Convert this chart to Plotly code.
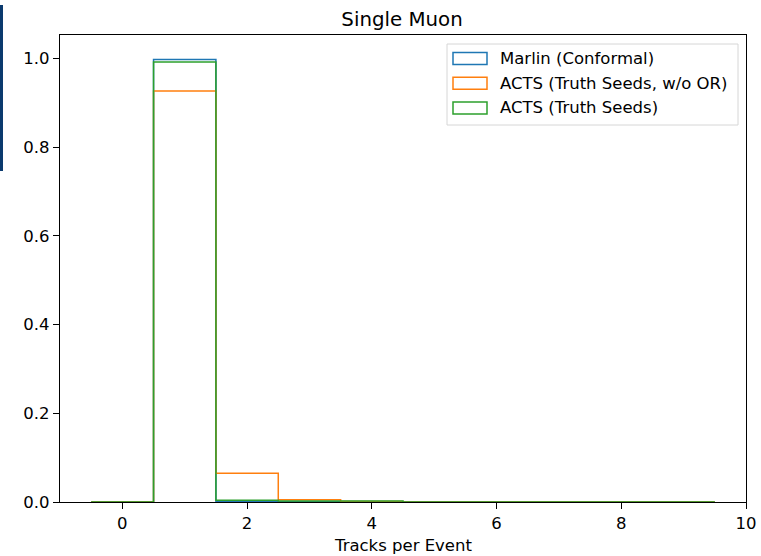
import plotly.graph_objects as go

# Data
bin_edges = [-0.5, 0.5, 1.5, 2.5, 3.5, 4.5, 5.5, 6.5, 7.5, 8.5, 9.5]
series_names = ["Marlin (Conformal)", "ACTS (Truth Seeds, w/o OR)", "ACTS (Truth Seeds)"]
marlin = [0.0, 0.998, 0.001, 0.0005, 0.0, 0.0, 0.0, 0.0, 0.0, 0.0]
acts_no_or = [0.0, 0.927, 0.065, 0.005, 0.001, 0.0, 0.0, 0.0, 0.0, 0.0]
acts = [0.0, 0.992, 0.004, 0.002, 0.002, 0.0, 0.0, 0.0, 0.0, 0.0]
colors = ["#1f77b4", "#ff7f0e", "#2ca02c"]
x_ticks = [0, 2, 4, 6, 8, 10]
y_ticks = [0.0, 0.2, 0.4, 0.6, 0.8, 1.0]

FONT = "DejaVu Sans"
FS = 16.5
fig = go.Figure()

for name, vals, col in zip(series_names, [marlin, acts_no_or, acts], colors):
    xs = [bin_edges[0]] + bin_edges
    ys = [0.0] + vals + [0.0]
    fig.add_trace(go.Scatter(x=xs, y=ys, mode="lines", line=dict(color=col, width=1.5, shape="hv"),
                             name=name, showlegend=False, hoverinfo="skip"))

# Manual legend (matplotlib-style patch outlines)
W, H = 761, 556
l, r, t, b = 60, 15, 35, 54
pw, ph = W - l - r, H - t - b

def px(xp):
    return (xp - l) / pw

def py(yp):
    return (H - b - yp) / ph

shapes = [
    dict(type="rect", xref="paper", yref="paper", x0=px(447), x1=px(738), y0=py(125), y1=py(44),
         line=dict(color="#d6d6d6", width=1), fillcolor="rgba(255,255,255,0.8)", layer="above"),
]
annotations = []
row_y = [58.5, 83.2, 107.9]
for name, col, yc in zip(series_names, colors, row_y):
    shapes.append(dict(type="rect", xref="paper", yref="paper", x0=px(453), x1=px(487),
                       y0=py(yc + 6), y1=py(yc - 6), line=dict(color=col, width=1.5),
                       fillcolor="rgba(0,0,0,0)", layer="above"))
    annotations.append(dict(xref="paper", yref="paper", x=px(498), y=py(yc), text=name,
                            showarrow=False, xanchor="left", yanchor="middle",
                            font=dict(family=FONT, size=FS, color="#000000")))

# X axis title placed as annotation
annotations.append(dict(xref="paper", yref="paper", x=px(403), y=py(545), text="Tracks per Event",
                        showarrow=False, xanchor="center", yanchor="middle",
                        font=dict(family=FONT, size=FS, color="#000000")))

# Navy bar at left edge of the reference screenshot
shapes.append(dict(type="rect", xref="paper", yref="paper", x0=px(0), x1=px(3), y0=py(171), y1=py(5),
                   line=dict(width=0), fillcolor="#0b3a6e", layer="above"))

fig.update_layout(
    width=W, height=H, autosize=False,
    margin=dict(l=l, r=r, t=t, b=b, pad=0, autoexpand=False),
    paper_bgcolor="white", plot_bgcolor="white",
    title=dict(text="Single Muon", x=402 / W, xanchor="center", y=1 - 19 / H, yanchor="middle",
               font=dict(family=FONT, size=19.8, color="#000000")),
    font=dict(family=FONT, size=FS, color="#000000"),
    shapes=shapes, annotations=annotations,
    showlegend=False,
)
fig.update_xaxes(range=[-1.0, 10.0], tickvals=x_ticks, ticktext=[str(v) for v in x_ticks],
                 ticks="outside", ticklen=6, tickwidth=1.2, tickcolor="black",
                 tickfont=dict(family=FONT, size=FS), automargin=False,
                 showline=True, linecolor="black", linewidth=1.2, mirror=True,
                 showgrid=False, zeroline=False)
fig.update_yaxes(range=[0.0, 1.053], tickvals=y_ticks, ticktext=[f"{v:.1f}" for v in y_ticks],
                 ticks="outside", ticklen=6, tickwidth=1.2, tickcolor="black",
                 tickfont=dict(family=FONT, size=FS), automargin=False,
                 showline=True, linecolor="black", linewidth=1.2, mirror=True,
                 showgrid=False, zeroline=False)

fig.write_html(
    "out.html",
    config={"displayModeBar": False, "responsive": False},
    post_script="document.documentElement.style.overflow='hidden';document.body.style.overflow='hidden';"
                "document.body.style.margin='0px';document.body.style.padding='0px';",
)
